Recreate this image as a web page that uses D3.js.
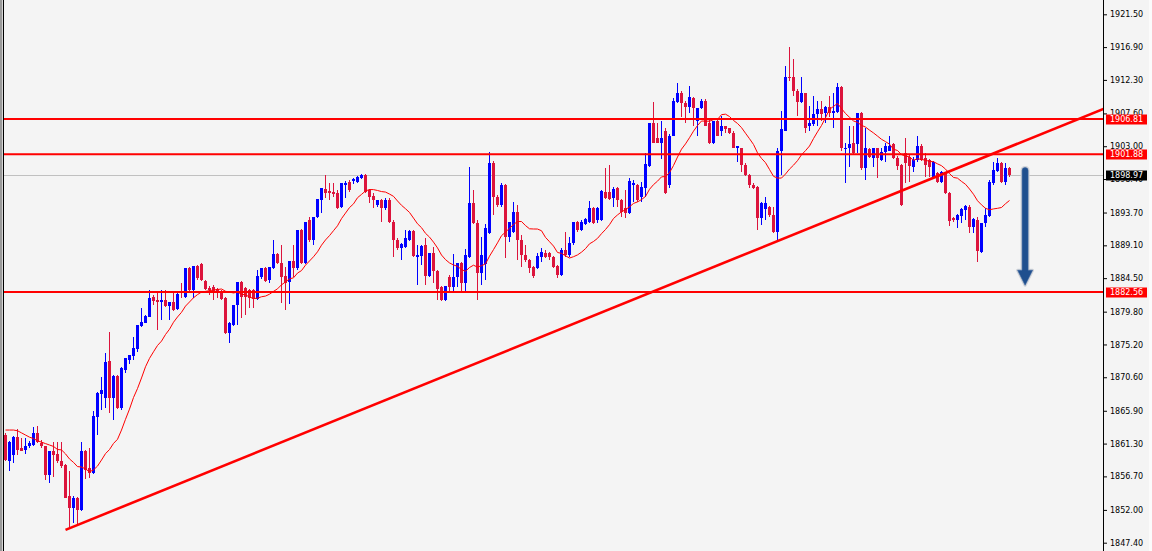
<!DOCTYPE html>
<html><head><meta charset="utf-8">
<script src="https://cdn.jsdelivr.net/npm/d3@7"></script>
<style>html,body{margin:0;padding:0;background:#f4f4f4;overflow:hidden}</style>
</head><body><svg id="c" width="1152" height="551"></svg>
<script>
// ---- data (prices) ----
const opens = [1862.5,1858.8,1859.7,1862.2,1860.7,1860.4,1860.9,1861.1,1862.8,1861.4,
1860.9,1856.9,1860.2,1859.9,1858.9,1858.3,1853.9,1852.2,1853.7,1852.0,
1860.2,1857.9,1857.2,1865.0,1868.3,1867.7,1872.9,1867.7,1870.8,1866.3,
1871.6,1873.0,1873.6,1874.6,1877.8,1878.2,1879.0,1881.8,1881.4,1881.2,
1881.4,1880.6,1881.2,1880.2,1882.5,1881.8,1885.9,1882.8,1886.2,1886.5,
1884.1,1883.1,1883.3,1883.0,1882.4,1881.7,1876.8,1877.9,1880.7,1884.0,
1883.1,1882.8,1882.8,1881.6,1884.7,1885.9,1884.2,1885.9,1887.9,1886.6,
1884.8,1884.0,1886.9,1885.9,1891.2,1886.6,1892.6,1889.8,1893.1,1895.4,
1897.0,1896.7,1896.6,1896.4,1894.5,1897.5,1898.0,1898.1,1898.0,1898.5,
1898.9,1896.8,1896.0,1894.7,1895.4,1894.3,1895.4,1892.4,1889.8,1888.7,
1888.9,1889.8,1891.1,1887.5,1887.6,1889.1,1884.8,1888.0,1885.5,1883.3,
1881.4,1884.7,1883.3,1884.7,1886.6,1883.8,1887.5,1895.0,1892.2,1885.2,
1886.5,1890.8,1900.6,1895.9,1894.7,1897.5,1890.2,1891.0,1893.8,1889.8,
1887.7,1887.0,1886.1,1885.9,1887.5,1888.0,1888.0,1887.5,1886.2,1884.9,
1888.4,1887.7,1889.4,1892.4,1891.2,1892.1,1892.4,1894.3,1892.6,1892.6,
1896.6,1896.6,1895.7,1897.1,1895.4,1894.3,1893.6,1897.5,1897.5,1895.9,
1897.1,1900.2,1906.2,1904.1,1903.4,1905.2,1897.5,1904.5,1909.2,1910.5,
1909.0,1908.5,1909.7,1906.6,1908.3,1909.4,1906.2,1903.4,1906.6,1905.2,
1905.8,1905.5,1904.9,1902.8,1902.7,1900.3,1898.9,1897.5,1897.3,1892.9,
1894.2,1894.5,1893.3,1891.0,1902.4,1905.2,1912.7,1912.7,1910.8,1909.2,
1910.4,1905.8,1906.1,1907.5,1908.2,1907.6,1908.5,1907.6,1907.8,1911.3,
1902.6,1902.7,1903.4,1903.3,1907.6,1899.9,1902.6,1901.3,1902.7,1901.0,
1902.2,1902.4,1903.3,1901.3,1900.3,1902.0,1901.5,1900.1,1901.0,1903.1,
1901.3,1901.0,1898.7,1899.2,1898.0,1899.2,1896.4,1892.9,1892.6,1893.2,
1894.0,1894.5,1891.7,1892.6,1888.2,1892.2,1893.2,1897.8,1899.5,1900.6,
1898.0,1899.9];
const highs = [1862.8,1861.7,1862.4,1863.4,1862.1,1862.1,1861.7,1863.6,1863.8,1861.8,
1861.0,1860.2,1861.5,1861.5,1861.5,1858.4,1857.4,1853.9,1853.8,1861.5,
1860.4,1860.7,1865.8,1868.6,1870.7,1874.0,1876.9,1870.9,1870.9,1872.1,
1873.3,1873.7,1876.2,1877.9,1880.3,1879.3,1882.8,1882.1,1882.4,1882.8,
1882.8,1881.2,1882.5,1882.5,1883.8,1885.9,1886.1,1886.2,1886.3,1886.6,
1884.2,1883.4,1883.5,1883.1,1882.8,1881.8,1878.3,1880.7,1884.0,1884.1,
1883.3,1883.0,1883.0,1885.6,1885.9,1886.1,1886.1,1889.8,1888.0,1889.1,
1886.1,1886.9,1889.1,1891.2,1891.4,1892.4,1893.1,1893.1,1895.6,1897.1,
1898.9,1897.8,1897.8,1896.8,1897.8,1898.1,1898.2,1898.5,1898.8,1899.1,
1899.1,1897.0,1896.4,1895.4,1895.6,1895.7,1895.7,1892.6,1890.1,1889.4,
1891.2,1891.2,1891.2,1889.1,1889.1,1890.1,1888.0,1888.9,1885.6,1883.4,
1883.4,1884.9,1887.9,1886.6,1886.8,1888.6,1900.1,1896.8,1892.6,1890.2,
1892.1,1902.2,1900.9,1896.1,1897.8,1897.7,1892.4,1895.2,1894.7,1890.5,
1889.1,1887.2,1886.2,1888.0,1888.7,1888.4,1888.2,1887.6,1886.3,1888.7,
1891.0,1890.2,1892.4,1892.5,1892.6,1892.9,1895.3,1894.5,1894.5,1896.8,
1899.9,1900.3,1897.3,1897.3,1895.6,1896.8,1898.5,1898.2,1897.7,1898.0,
1902.0,1906.2,1909.2,1906.2,1906.6,1905.5,1904.7,1909.7,1911.8,1910.7,
1909.3,1911.5,1909.9,1908.3,1909.6,1909.6,1906.9,1906.6,1906.9,1907.3,
1905.9,1905.6,1905.1,1903.1,1902.8,1900.6,1899.1,1897.8,1897.4,1895.2,
1895.9,1894.6,1894.5,1902.7,1908.0,1914.3,1916.9,1915.3,1911.0,1912.7,
1910.5,1908.7,1910.1,1909.3,1909.3,1908.6,1910.1,1910.5,1911.8,1911.4,
1903.4,1905.9,1905.9,1907.6,1907.8,1905.5,1902.7,1902.7,1902.8,1902.8,
1903.5,1904.4,1903.4,1901.6,1900.5,1904.2,1901.7,1901.5,1904.5,1903.3,
1902.0,1901.2,1900.9,1899.4,1899.5,1899.4,1896.6,1893.1,1893.5,1894.3,
1894.7,1894.7,1892.9,1893.1,1892.2,1894.3,1898.2,1900.8,1901.3,1900.8,
1900.6,1900.1];
const lows = [1858.9,1857.5,1858.6,1859.7,1860.2,1859.9,1860.7,1861.0,1861.4,1860.7,
1856.2,1855.8,1856.6,1858.6,1857.9,1853.6,1849.5,1850.2,1849.9,1851.9,
1856.4,1856.5,1857.1,1862.5,1866.0,1866.3,1865.6,1864.6,1866.2,1866.0,
1871.2,1872.5,1873.0,1874.2,1877.7,1878.2,1879.0,1880.7,1877.2,1878.6,
1880.5,1878.6,1879.9,1880.0,1881.7,1881.7,1882.5,1881.7,1884.2,1884.1,
1882.8,1882.1,1881.4,1881.7,1881.4,1876.7,1875.4,1877.8,1877.9,1878.9,
1879.3,1880.3,1880.3,1881.4,1884.4,1884.0,1883.8,1885.8,1886.5,1881.0,
1880.0,1880.9,1884.7,1885.6,1886.5,1886.5,1889.5,1889.1,1892.9,1893.6,
1895.7,1895.4,1895.9,1894.2,1894.3,1895.7,1896.6,1897.7,1897.8,1898.4,
1896.4,1895.0,1894.3,1894.5,1892.4,1894.0,1892.2,1887.5,1888.4,1887.0,
1888.7,1889.7,1887.5,1883.5,1886.3,1883.5,1884.7,1883.8,1881.4,1881.3,
1881.3,1882.4,1882.4,1883.3,1882.5,1882.5,1887.3,1892.1,1881.4,1883.5,
1884.2,1890.7,1893.3,1894.5,1894.5,1887.3,1889.5,1890.8,1887.0,1886.1,
1886.8,1885.2,1884.5,1885.8,1886.8,1887.3,1887.0,1885.9,1884.5,1884.8,
1887.5,1887.5,1889.1,1891.0,1891.1,1891.9,1892.2,1892.1,1892.2,1892.5,
1895.6,1895.4,1894.5,1894.5,1893.1,1892.9,1893.5,1895.2,1895.2,1895.2,
1895.9,1900.1,1903.4,1903.4,1901.2,1896.3,1897.1,1904.4,1909.0,1907.1,
1906.2,1907.6,1905.9,1904.5,1908.2,1905.8,1903.3,1903.3,1904.4,1904.5,
1904.9,1904.7,1902.7,1900.8,1899.4,1898.8,1897.1,1897.0,1891.2,1891.9,
1892.6,1893.1,1890.8,1889.8,1898.9,1905.1,1912.2,1910.1,1907.3,1909.0,
1904.9,1905.2,1905.9,1905.9,1906.6,1906.2,1907.1,1905.5,1907.6,1902.4,
1897.8,1900.1,1901.9,1902.0,1899.6,1898.2,1901.3,1900.1,1898.5,1900.9,
1900.8,1902.3,1901.2,1899.6,1894.6,1897.8,1898.0,1899.4,1900.8,1900.9,
1898.7,1898.7,1898.5,1897.8,1897.8,1896.3,1891.8,1892.4,1891.5,1892.2,
1892.6,1890.8,1890.8,1886.8,1888.0,1891.7,1893.1,1897.5,1899.4,1897.8,
1897.5,1898.7];
const closes = [1859.0,1861.5,1862.2,1860.4,1860.3,1861.0,1861.4,1862.8,1861.5,1860.9,
1856.9,1860.2,1859.7,1858.8,1858.2,1853.7,1852.2,1853.7,1852.0,1860.2,
1857.6,1857.2,1865.2,1868.4,1868.8,1872.8,1867.7,1870.8,1866.3,1871.9,
1873.3,1873.7,1874.7,1877.9,1878.3,1879.2,1881.7,1881.3,1881.2,1881.4,
1880.6,1881.2,1880.0,1882.3,1882.4,1885.9,1882.8,1886.2,1884.5,1884.2,
1883.0,1882.8,1882.4,1882.4,1881.6,1876.8,1878.2,1880.7,1884.0,1881.8,
1881.8,1881.7,1881.6,1884.8,1885.9,1884.1,1886.1,1887.9,1886.6,1884.7,
1883.8,1886.9,1885.9,1891.2,1886.6,1892.4,1889.8,1893.1,1895.6,1897.1,
1896.4,1896.4,1896.3,1894.3,1897.8,1897.8,1896.8,1898.4,1898.7,1898.9,
1896.6,1895.9,1895.4,1895.4,1894.3,1895.4,1892.4,1889.8,1888.7,1889.3,
1890.1,1891.1,1887.6,1887.7,1889.0,1884.8,1888.0,1885.5,1883.0,1881.4,
1883.4,1883.3,1884.7,1886.6,1883.8,1887.7,1895.0,1892.2,1885.2,1887.7,
1891.5,1900.6,1895.9,1894.7,1897.5,1890.2,1892.4,1893.8,1889.8,1887.7,
1887.0,1885.9,1884.8,1887.6,1888.2,1887.5,1887.5,1886.1,1884.9,1888.4,
1887.7,1889.4,1892.4,1891.2,1892.4,1892.8,1894.3,1892.2,1894.3,1896.7,
1895.7,1895.6,1897.0,1895.4,1893.8,1893.6,1898.1,1897.8,1895.4,1897.3,
1900.5,1906.2,1903.5,1903.5,1904.1,1896.4,1904.5,1909.4,1910.5,1909.0,
1908.5,1909.9,1908.3,1908.3,1909.4,1905.9,1903.4,1906.6,1904.5,1905.8,
1905.4,1904.8,1902.8,1903.1,1900.3,1898.9,1897.5,1897.1,1892.9,1895.0,
1895.0,1893.3,1891.0,1902.4,1905.4,1912.7,1912.5,1910.8,1909.2,1910.4,
1905.6,1906.2,1907.5,1908.2,1907.5,1908.5,1907.6,1908.0,1911.3,1902.7,
1902.8,1903.3,1902.0,1907.6,1899.9,1902.7,1901.5,1902.7,1901.3,1902.2,
1903.0,1903.1,1901.3,1900.2,1894.7,1900.6,1900.2,1901.0,1903.1,1901.0,
1900.3,1900.1,1900.8,1898.0,1899.4,1896.4,1892.5,1892.6,1893.3,1894.2,
1894.6,1891.7,1892.8,1888.3,1892.2,1893.3,1898.0,1899.6,1900.6,1898.0,
1899.9,1898.97];
// moving-average values shown before enough candles exist
const maLead = [1863.2,1863.2,1863.2,1863.1,1862.8,1862.5,1862.2,1862.0,1861.7,1861.5,1861.3,1861.1,1860.9];
const maPeriod = 14;
const priceTicks = [1921.50,1916.90,1912.30,1907.60,1903.00,1898.40,1893.70,1889.10,1884.50,1879.80,1875.20,1870.60,1865.90,1861.30,1856.70,1852.00,1847.40];
const levelLines = [1906.81, 1901.88, 1882.56];
const currentPrice = 1898.97;
const trendA = {i: 15, p: 1849.2};
const trendB = {i: 193, p: 1889.7};
const arrowMark = {i: 254.9, from: 1900.0, to: 1883.5};

// ---- layout ----
const W = 1152, H = 551;
const plotLeft = 4, plotRight = 1103;
const svg = d3.select('#c');
const n = closes.length;
const x = d3.scaleLinear().domain([0, n - 1]).range([5.5, 5.5 + 4 * (n - 1)]);
const y = d3.scaleLinear().domain([1847.40, 1921.50]).range([542.7, 14.3]);

svg.append('rect').attr('width', W).attr('height', H).attr('fill', '#f4f4f4');
svg.append('rect').attr('x', 0).attr('y', 0).attr('width', 2).attr('height', H).attr('fill', '#9a9a9a');
svg.append('rect').attr('x', 2).attr('y', 0).attr('width', 1).attr('height', H).attr('fill', '#d6d6d6');
svg.append('line').attr('x1', 3.5).attr('x2', 3.5).attr('y1', 0).attr('y2', H).attr('stroke', '#000');
svg.append('rect').attr('x', 1149).attr('y', 0).attr('width', 3).attr('height', H).attr('fill', '#fbfbfb');

svg.append('clipPath').attr('id', 'plot').append('rect')
  .attr('x', plotLeft).attr('y', 0).attr('width', plotRight - plotLeft).attr('height', H);
const g = svg.append('g').attr('clip-path', 'url(#plot)');

// current price line
g.append('line').attr('x1', plotLeft).attr('x2', plotRight)
  .attr('y1', Math.round(y(currentPrice)) + 0.5).attr('y2', Math.round(y(currentPrice)) + 0.5)
  .attr('stroke', '#c0c0c0').attr('stroke-width', 1);

// candles
const candles = d3.range(n).map(i => ({i, o: opens[i], h: highs[i], l: lows[i], c: closes[i]}));
const up = '#0000ff', down = '#dc143c';
const cg = g.append('g').attr('shape-rendering', 'crispEdges');
cg.selectAll('line.w').data(candles).join('line').attr('class', 'w')
  .attr('x1', d => x(d.i)).attr('x2', d => x(d.i))
  .attr('y1', d => y(d.h)).attr('y2', d => y(d.l))
  .attr('stroke', d => d.c >= d.o ? up : down).attr('stroke-width', 1);
cg.selectAll('rect.b').data(candles).join('rect').attr('class', 'b')
  .attr('x', d => x(d.i) - 1.5).attr('width', 3)
  .attr('y', d => y(Math.max(d.o, d.c)))
  .attr('height', d => Math.max(1, Math.abs(y(d.o) - y(d.c))))
  .attr('fill', d => d.c >= d.o ? up : down);

// moving average
const ma = closes.map((c, i) => i < maPeriod - 1 ? maLead[i] : d3.mean(closes.slice(i - maPeriod + 1, i + 1)));
g.append('path').datum(ma)
  .attr('d', d3.line().x((d, i) => x(i)).y(d => y(d)))
  .attr('fill', 'none').attr('stroke', '#ff0000').attr('stroke-width', 1);

// horizontal levels
levelLines.forEach(p => {
  g.append('line').attr('x1', plotLeft).attr('x2', plotRight)
    .attr('y1', y(p)).attr('y2', y(p)).attr('stroke', '#ff0000').attr('stroke-width', 2);
});

// trend line through two lows, extended to the axis
const slope = (trendB.p - trendA.p) / (trendB.i - trendA.i);
const iEnd = x.invert(plotRight + 2);
g.append('line')
  .attr('x1', x(trendA.i)).attr('y1', y(trendA.p))
  .attr('x2', x(iEnd)).attr('y2', y(trendA.p + slope * (iEnd - trendA.i)))
  .attr('stroke', '#ff0000').attr('stroke-width', 2.6);

// arrow
const ax = x(arrowMark.i), ay1 = y(arrowMark.from), ay2 = y(arrowMark.to);
const arrowPath = `M${ax - 3},${ay2 - 15} L${ax - 3},${ay1 + 3} Q${ax - 3},${ay1} ${ax},${ay1} Q${ax + 3},${ay1} ${ax + 3},${ay1 + 3} L${ax + 3},${ay2 - 15} L${ax + 7.5},${ay2 - 15} L${ax},${ay2} L${ax - 7.5},${ay2 - 15} Z`;
svg.append('path').attr('d', arrowPath).attr('fill', 'none').attr('stroke', '#d0d3d8').attr('stroke-width', 3).attr('stroke-linejoin', 'round');
svg.append('path').attr('d', arrowPath).attr('fill', '#1f4f8e').attr('stroke', '#3a64a0').attr('stroke-width', 0.6);

// price axis
svg.append('line').attr('x1', plotRight + 0.5).attr('x2', plotRight + 0.5).attr('y1', 0).attr('y2', H)
  .attr('stroke', '#000').attr('stroke-width', 1);
const axis = d3.axisRight(y).tickValues(priceTicks).tickFormat(d => d.toFixed(2)).tickSize(3).tickSizeOuter(0).tickPadding(3);
const axG = svg.append('g').attr('transform', `translate(${plotRight + 1},0)`).call(axis);
axG.select('.domain').remove();
axG.selectAll('.tick line').attr('stroke', '#000');
axG.selectAll('.tick text').attr('font-family', 'DejaVu Sans, Verdana, sans-serif').attr('font-size', 8).attr('fill', '#000');

// price boxes
const boxes = levelLines.map(p => ({p, bg: '#ff0000'})).concat([{p: currentPrice, bg: '#000000'}]);
boxes.forEach(b => {
  const yy = y(b.p);
  svg.append('rect').attr('x', plotRight + 3).attr('y', Math.round(yy) - 4.5).attr('width', 41).attr('height', 10).attr('fill', b.bg);
  svg.append('text').attr('x', plotRight + 7).attr('y', yy + 0.5).attr('dominant-baseline', 'middle')
    .attr('font-family', 'DejaVu Sans, Verdana, sans-serif').attr('font-size', 8).attr('fill', '#fff')
    .text(b.p.toFixed(2));
});
</script></body></html>
